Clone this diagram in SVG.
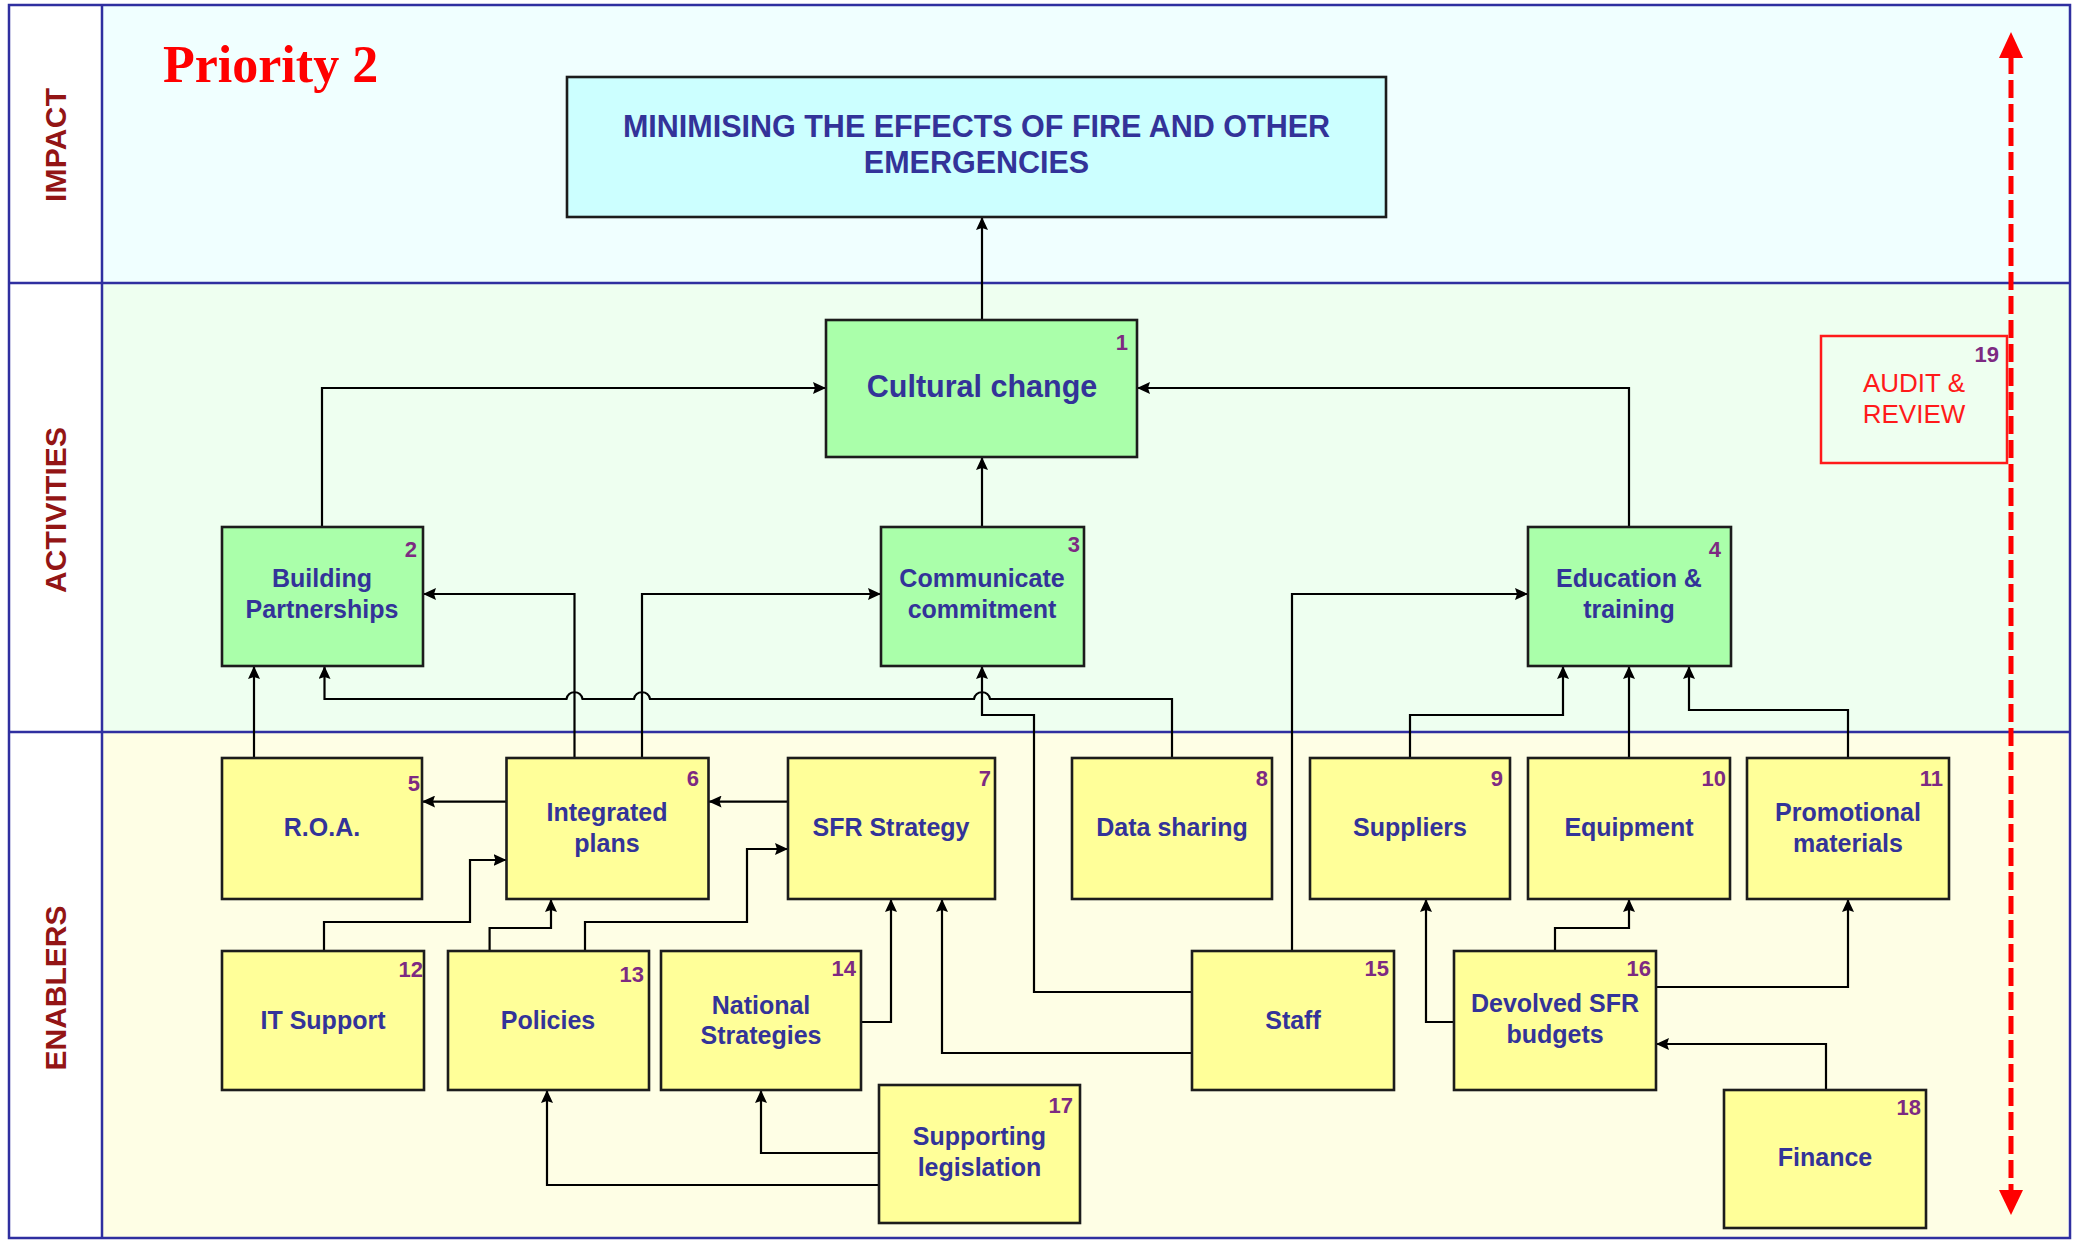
<svg xmlns="http://www.w3.org/2000/svg" width="2080" height="1240" viewBox="0 0 2080 1240">
  <defs>
    <style>
      .lane-impact { fill: #f0ffff; }
      .lane-act { fill: #eefff0; }
      .lane-en { fill: #fefee5; }
      .rule { stroke: #2f2fa0; stroke-width: 2.5; fill: none; }
      .lane-lbl { font-family: "Liberation Sans", Arial, sans-serif; font-weight: bold; font-size: 30px; fill: #931515; text-anchor: middle; }
      .box { stroke: #1c1c1c; stroke-width: 2.6; }
      .impact { fill: #ccffff; }
      .act { fill: #aaffaa; }
      .en { fill: #ffff99; }
      .lbl { font-family: "Liberation Sans", Arial, sans-serif; font-weight: bold; font-size: 25px; fill: #333399; text-anchor: middle; }
      .big { font-size: 30.5px; }
      .audit { font-weight: normal; font-size: 26px; fill: #ff1a1a; }
      .num { font-family: "Liberation Sans", Arial, sans-serif; font-weight: bold; font-size: 22px; fill: #7d2a82; text-anchor: end; }
      .link { fill: none; stroke: #000; stroke-width: 2.2; marker-end: url(#ah); }
    </style>
    <marker id="ah" viewBox="0 0 13 12" refX="13" refY="6" markerWidth="13" markerHeight="12" markerUnits="userSpaceOnUse" orient="auto">
      <path d="M0,0 L13,6 L0,12 L2,6 z" fill="#000"/>
    </marker>
  </defs>

  <!-- swimlane backgrounds -->
  <rect x="0" y="0" width="2080" height="1240" fill="#ffffff"/>
  <rect class="lane-impact" x="102" y="5" width="1968" height="278"/>
  <rect class="lane-act" x="102" y="283" width="1968" height="449"/>
  <rect class="lane-en" x="102" y="732" width="1966" height="506"/>

  <!-- lane frame -->
  <rect class="rule" x="9" y="5" width="2061" height="1233"/>
  <line class="rule" x1="102" y1="5" x2="102" y2="1238"/>
  <line class="rule" x1="9" y1="283" x2="2070" y2="283"/>
  <line class="rule" x1="9" y1="732" x2="2070" y2="732"/>

  <!-- lane titles -->
  <text class="lane-lbl" transform="translate(65.5,145) rotate(-90)" textLength="114">IMPACT</text>
  <text class="lane-lbl" transform="translate(65.5,510) rotate(-90)" textLength="166">ACTIVITIES</text>
  <text class="lane-lbl" transform="translate(65.5,988) rotate(-90)" textLength="165">ENABLERS</text>

  <text x="163" y="82" font-family="'Liberation Serif', 'Times New Roman', serif" font-weight="bold" font-size="52" fill="#ff0000">Priority 2</text>

  <!-- connectors -->
  <g id="connectors">
    <path class="link" d="M982,320 V217"/>
    <path class="link" d="M322,527 V388 H826"/>
    <path class="link" d="M982,527 V457"/>
    <path class="link" d="M1629,527 V388 H1137"/>
    <path class="link" d="M254,758 V666"/>
    <path class="link" d="M574.5,758 V594 H423"/>
    <path class="link" d="M642,758 V594 H881"/>
    <path class="link" d="M1172,758 V699 H990 C988,690 976,690 974,699 H650 C648,690 636,690 634,699 H582.5 C580.5,690 568.5,690 566.5,699 H324.5 V666"/>
    <path class="link" d="M1192,992 H1034 V715 H982 V666"/>
    <path class="link" d="M788,801.6 H708.5"/>
    <path class="link" d="M506.5,801.6 H422"/>
    <path class="link" d="M324,951 V922 H470 V860 H506.5"/>
    <path class="link" d="M489.6,951 V928 H551 V899"/>
    <path class="link" d="M585,951 V922 H747 V849 H788"/>
    <path class="link" d="M861,1022 H891 V899"/>
    <path class="link" d="M1192,1053 H942 V899"/>
    <path class="link" d="M879,1153 H761 V1090"/>
    <path class="link" d="M879,1185 H547 V1090"/>
    <path class="link" d="M1292,951 V594 H1528"/>
    <path class="link" d="M1410,758 V715 H1563 V666"/>
    <path class="link" d="M1629,758 V666"/>
    <path class="link" d="M1848,758 V710 H1689 V666"/>
    <path class="link" d="M1454,1022 H1426 V899"/>
    <path class="link" d="M1555,951 V928 H1629 V899"/>
    <path class="link" d="M1656,987 H1848 V899"/>
    <path class="link" d="M1826,1090 V1044 H1656"/>
  </g>

  <!-- impact -->
  <g id="n0">
    <rect class="box impact" x="567" y="77" width="819" height="140"/>
    <text class="lbl big" x="976.5" y="137">MINIMISING THE EFFECTS OF FIRE AND OTHER</text>
    <text class="lbl big" x="976.5" y="173">EMERGENCIES</text>
  </g>

  <!-- activities -->
  <g id="n1">
    <rect class="box act" x="826" y="320" width="311" height="137"/>
    <text class="lbl big" x="982" y="397">Cultural change</text>
    <text class="num" x="1128" y="350">1</text>
  </g>
  <g id="n2">
    <rect class="box act" x="222" y="527" width="201" height="139"/>
    <text class="lbl" x="322" y="587">Building</text>
    <text class="lbl" x="322" y="618">Partnerships</text>
    <text class="num" x="417" y="557">2</text>
  </g>
  <g id="n3">
    <rect class="box act" x="881" y="527" width="203" height="139"/>
    <text class="lbl" x="982" y="587">Communicate</text>
    <text class="lbl" x="982" y="618">commitment</text>
    <text class="num" x="1080" y="552">3</text>
  </g>
  <g id="n4">
    <rect class="box act" x="1528" y="527" width="203" height="139"/>
    <text class="lbl" x="1629" y="587">Education &amp;</text>
    <text class="lbl" x="1629" y="618">training</text>
    <text class="num" x="1721" y="557">4</text>
  </g>
  <g id="n19">
    <rect x="1821" y="336" width="186" height="127" fill="none" stroke="#ff1a1a" stroke-width="2.5"/>
    <text class="lbl audit" x="1914" y="392">AUDIT &amp;</text>
    <text class="lbl audit" x="1914" y="423">REVIEW</text>
    <text class="num" x="1999" y="362">19</text>
  </g>

  <!-- enablers, upper row -->
  <g id="n5">
    <rect class="box en" x="222" y="758" width="200" height="141"/>
    <text class="lbl" x="322" y="836">R.O.A.</text>
    <text class="num" x="420" y="791">5</text>
  </g>
  <g id="n6">
    <rect class="box en" x="506.5" y="758" width="202" height="141"/>
    <text class="lbl" x="607" y="820.5">Integrated</text>
    <text class="lbl" x="607" y="851.5">plans</text>
    <text class="num" x="699" y="786">6</text>
  </g>
  <g id="n7">
    <rect class="box en" x="788" y="758" width="207" height="141"/>
    <text class="lbl" x="891" y="836">SFR Strategy</text>
    <text class="num" x="991" y="786">7</text>
  </g>
  <g id="n8">
    <rect class="box en" x="1072" y="758" width="200" height="141"/>
    <text class="lbl" x="1172" y="836">Data sharing</text>
    <text class="num" x="1268" y="786">8</text>
  </g>
  <g id="n9">
    <rect class="box en" x="1310" y="758" width="200" height="141"/>
    <text class="lbl" x="1410" y="836">Suppliers</text>
    <text class="num" x="1503" y="786">9</text>
  </g>
  <g id="n10">
    <rect class="box en" x="1528" y="758" width="202" height="141"/>
    <text class="lbl" x="1629" y="836">Equipment</text>
    <text class="num" x="1726" y="786">10</text>
  </g>
  <g id="n11">
    <rect class="box en" x="1747" y="758" width="202" height="141"/>
    <text class="lbl" x="1848" y="820.5">Promotional</text>
    <text class="lbl" x="1848" y="851.5">materials</text>
    <text class="num" x="1943" y="786">11</text>
  </g>

  <!-- enablers, lower rows -->
  <g id="n12">
    <rect class="box en" x="222" y="951" width="202" height="139"/>
    <text class="lbl" x="323" y="1029">IT Support</text>
    <text class="num" x="423" y="977">12</text>
  </g>
  <g id="n13">
    <rect class="box en" x="448" y="951" width="201" height="139"/>
    <text class="lbl" x="548" y="1029">Policies</text>
    <text class="num" x="644" y="982">13</text>
  </g>
  <g id="n14">
    <rect class="box en" x="661" y="951" width="200" height="139"/>
    <text class="lbl" x="761" y="1013.5">National</text>
    <text class="lbl" x="761" y="1043.5">Strategies</text>
    <text class="num" x="856" y="976">14</text>
  </g>
  <g id="n15">
    <rect class="box en" x="1192" y="951" width="202" height="139"/>
    <text class="lbl" x="1293" y="1029">Staff</text>
    <text class="num" x="1389" y="976">15</text>
  </g>
  <g id="n16">
    <rect class="box en" x="1454" y="951" width="202" height="139"/>
    <text class="lbl" x="1555" y="1012">Devolved SFR</text>
    <text class="lbl" x="1555" y="1043">budgets</text>
    <text class="num" x="1651" y="976">16</text>
  </g>
  <g id="n17">
    <rect class="box en" x="879" y="1085" width="201" height="138"/>
    <text class="lbl" x="979.5" y="1145">Supporting</text>
    <text class="lbl" x="979.5" y="1176">legislation</text>
    <text class="num" x="1073" y="1113">17</text>
  </g>
  <g id="n18">
    <rect class="box en" x="1724" y="1090" width="202" height="138"/>
    <text class="lbl" x="1825" y="1166">Finance</text>
    <text class="num" x="1921" y="1115">18</text>
  </g>

  <!-- audit and review span: red dashed double arrow -->
  <g id="review-span">
    <line x1="2011" y1="56" x2="2011" y2="1192" stroke="#ff0000" stroke-width="5" stroke-dasharray="18 6"/>
    <polygon points="2011,32 2023,58 1999,58" fill="#ff0000"/>
    <polygon points="2011,1215 2023,1190 1999,1190" fill="#ff0000"/>
  </g>
</svg>
